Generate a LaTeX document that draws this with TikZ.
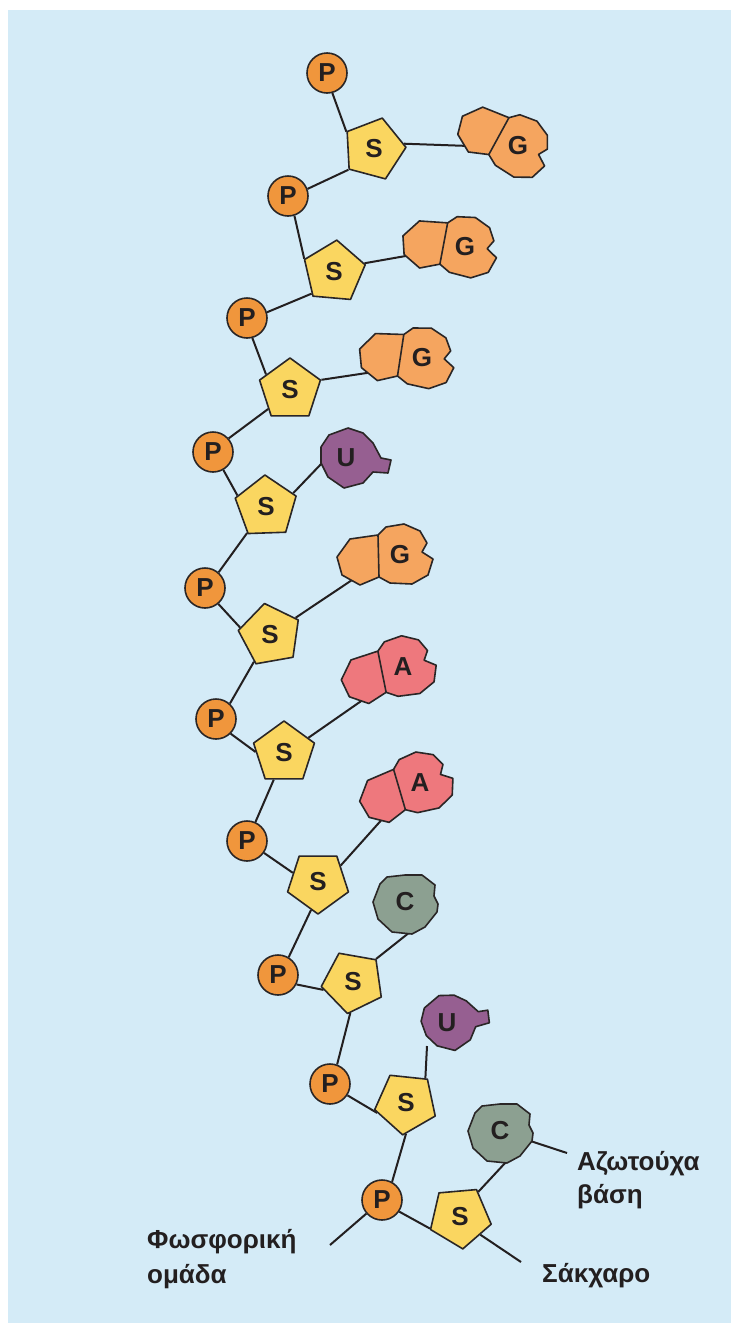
\documentclass[tikz,border=0pt]{standalone}
\usepackage{fontspec}
\setmainfont{Liberation Sans}
\usetikzlibrary{shapes.geometric}

\definecolor{paperblue}{HTML}{D4EBF7}
\definecolor{outl}{HTML}{2A2626}
\definecolor{bondc}{HTML}{231F20}
\definecolor{phoscol}{HTML}{F0963C}
\definecolor{sugcol}{HTML}{FAD660}
\definecolor{gcol}{HTML}{F5A55F}
\definecolor{acol}{HTML}{EE787D}
\definecolor{ucol}{HTML}{965F91}
\definecolor{ccol}{HTML}{8CA091}
\definecolor{txt}{HTML}{231F20}

\pgfdeclarelayer{paper}
\pgfdeclarelayer{bonds}
\pgfsetlayers{paper,bonds,main}

\tikzset{
  phos/.style={circle, draw=outl, line width=1.6pt, fill=phoscol,
    minimum size=40pt, inner sep=0pt, text=txt,
    font=\bfseries\fontsize{26}{26}\selectfont},
  sug/.style={regular polygon, regular polygon sides=5, draw=outl,
    line width=1.6pt, fill=sugcol, minimum size=64pt, inner sep=0pt,
    line join=round, text=txt, font=\bfseries\fontsize{26}{26}\selectfont},
  blob/.style={draw=outl, line width=1.6pt, line join=round},
  lettr/.style={inner sep=0pt, text=txt, font=\bfseries\fontsize{26}{26}\selectfont},
  bond/.style={draw=bondc, line width=2pt},
  lab/.style={anchor=base west, inner sep=0pt, text=txt,
    font=\bfseries\fontsize{26}{26}\selectfont},
  % two-ring base (G, A)
  pics/purine/.style 2 args={code={
    \draw[blob, fill=#1] (-22,-20) -- (-14,-28) -- (4,-31) -- (20,-24)
      -- (27,-12) -- (22,-3) -- (33,4) -- (28,20) -- (12,29) -- (-10,28)
      -- (-21,22) -- (-40,30) -- (-58,20) -- (-63,2) -- (-50,-16) -- cycle;
    \draw[blob] (-22,-20) -- (-21,22);
    \node[lettr] (-t) at (0,0) {#2};
  }},
  % one-ring base with a side tab (U)
  pics/uracil/.style 2 args={code={
    \draw[blob, fill=#1] (-25,-11) -- (-17,-23) -- (2,-30) -- (17,-25)
      -- (27,-15) -- (35,0) -- (45,2) -- (42,15) -- (27,14) -- (17,25)
      -- (-2,30) -- (-18,19) -- (-25,5) -- cycle;
    \node[lettr] (-t) at (0,0) {#2};
  }},
  % rounder one-ring base (C)
  pics/cytosine/.style 2 args={code={
    \draw[blob, fill=#1] (-25,-18) -- (-18,-25) -- (0,-27) -- (17,-27)
      -- (30,-17) -- (29,-6) -- (33,2) -- (32,10) -- (20,25) -- (7,32)
      -- (-13,30) -- (-27,17) -- (-32,0) -- cycle;
    \node[lettr] (-t) at (0,0) {#2};
  }}
}

\begin{document}
\begin{tikzpicture}[x=1pt, y=-1pt]
\useasboundingbox (0,0) rectangle (731,1323);
\begin{pgfonlayer}{paper}
  \fill[white] (0,0) rectangle (731,1323);
  \fill[paperblue] (8,10) rectangle (731,1323);
\end{pgfonlayer}

% phosphate groups
\node[phos] (p1)  at (327,73)   {P};
\node[phos] (p2)  at (288,196)  {P};
\node[phos] (p3)  at (247,318)  {P};
\node[phos] (p4)  at (213,452)  {P};
\node[phos] (p5)  at (205,588)  {P};
\node[phos] (p6)  at (216,719)  {P};
\node[phos] (p7)  at (247,841)  {P};
\node[phos] (p8)  at (278,975)  {P};
\node[phos] (p9)  at (330,1084) {P};
\node[phos] (p10) at (382,1200) {P};

% sugars
\node[sug, shape border rotate=-15] (s1)  at (374,149)  {S};
\node[sug, shape border rotate=-5]  (s2)  at (334,272)  {S};
\node[sug, shape border rotate=0]   (s3)  at (290,390)  {S};
\node[sug, shape border rotate=2]   (s4)  at (266,507)  {S};
\node[sug, shape border rotate=10]  (s5)  at (270,635)  {S};
\node[sug, shape border rotate=0]   (s6)  at (284,753)  {S};
\node[sug, shape border rotate=36]  (s7)  at (318,882)  {S};
\node[sug, shape border rotate=26]  (s8)  at (353,982)  {S};
\node[sug, shape border rotate=30]  (s9)  at (406,1103) {S};
\node[sug, shape border rotate=-31] (s10) at (460,1217) {S};

% nitrogen bases
\pic[rotate=-30] (g1) at (518,146) {purine={gcol}{G}};
\pic[rotate=-12] (g2) at (465,247) {purine={gcol}{G}};
\pic[rotate=-10] (g3) at (422,358) {purine={gcol}{G}};
\pic             (u1) at (346,458) {uracil={ucol}{U}};
\pic             (g5) at (400,555) {purine={gcol}{G}};
\pic[rotate=10]  (a1) at (403,667) {purine={acol}{A}};
\pic[rotate=15]  (a2) at (420,783) {purine={acol}{A}};
\pic             (c1) at (405,902) {cytosine={ccol}{C}};
\pic[rotate=20, scale=0.95] (u2) at (447,1023) {uracil={ucol}{U}};
\pic             (c2) at (500,1131) {cytosine={ccol}{C}};

% where each base bond meets its ring
\coordinate (bg1) at (498,147);
\coordinate (bg2) at (417,254);
\coordinate (bg3) at (380,371);
\coordinate (bu1) at (323,462);
\coordinate (bg5) at (361,574);
\coordinate (ba1) at (367,697);
\coordinate (ba2) at (385,816);
\coordinate (bc1) at (410,932);
\coordinate (bu2) at (427,1046);
\coordinate (bc2) at (506,1162);

% free ends of the pointer lines
\coordinate (ptail) at (330,1245);
\coordinate (stail) at (521,1262);
\coordinate (ctail) at (567,1153);

% labels
\node[lab] (nb1) at (577,1170) {Αζωτούχα};
\node[lab] (nb2) at (577,1203) {βάση};
\node[lab] (su)  at (542,1282) {Σάκχαρο};
\node[lab] (ph1) at (147,1248) {Φωσφορική};
\node[lab] (ph2) at (147,1283) {ομάδα};

\begin{pgfonlayer}{bonds}
  \draw[bond] (p1.-75) -- (s1.148);
  \draw[bond] (s1.-141) -- (p2.20);
  \draw[bond] (s1.10) -- (bg1);
  \draw[bond] (p2.-72) -- (s2.156);
  \draw[bond] (s2.-136) -- (p3.16);
  \draw[bond] (s2.16) -- (bg2);
  \draw[bond] (p3.-75) -- (s3.147);
  \draw[bond] (s3.-139) -- (p4.41);
  \draw[bond] (s3.18) -- (bg3);
  \draw[bond] (p4.-60) -- (s4.158);
  \draw[bond] (s4.-126) -- (p5.49);
  \draw[bond] (s4.27) -- (bu1);
  \draw[bond] (p5.-50) -- (s5.166);
  \draw[bond] (s5.-121) -- (p6.48);
  \draw[bond] (s5.34) -- (bg5);
  \draw[bond] (p6.-45) -- (s6.178);
  \draw[bond] (s6.-111) -- (p7.66);
  \draw[bond] (s6.32) -- (ba1);
  \draw[bond] (p7.-35) -- (s7.160);
  \draw[bond] (s7.-104) -- (p8.59);
  \draw[bond] (s7.36) -- (ba2);
  \draw[bond] (p8.-27) -- (s8.-165);
  \draw[bond] (s8.-95) -- (p9.70);
  \draw[bond] (s8.45) -- (bc1);
  \draw[bond] (p9.-33) -- (s9.-161);
  \draw[bond] (s9.-90) -- (p10.61);
  \draw[bond] (s9.52) -- (bu2);
  \draw[bond] (p10.-34) -- (s10.-159);
  \draw[bond] (s10.54) -- (bc2);
  \draw[bond] (p10.-139) -- (ptail);
  \draw[bond] (s10.-41) -- (stail);
  \draw[bond] (c2-t.center) -- (ctail);
\end{pgfonlayer}
\end{tikzpicture}
\end{document}
